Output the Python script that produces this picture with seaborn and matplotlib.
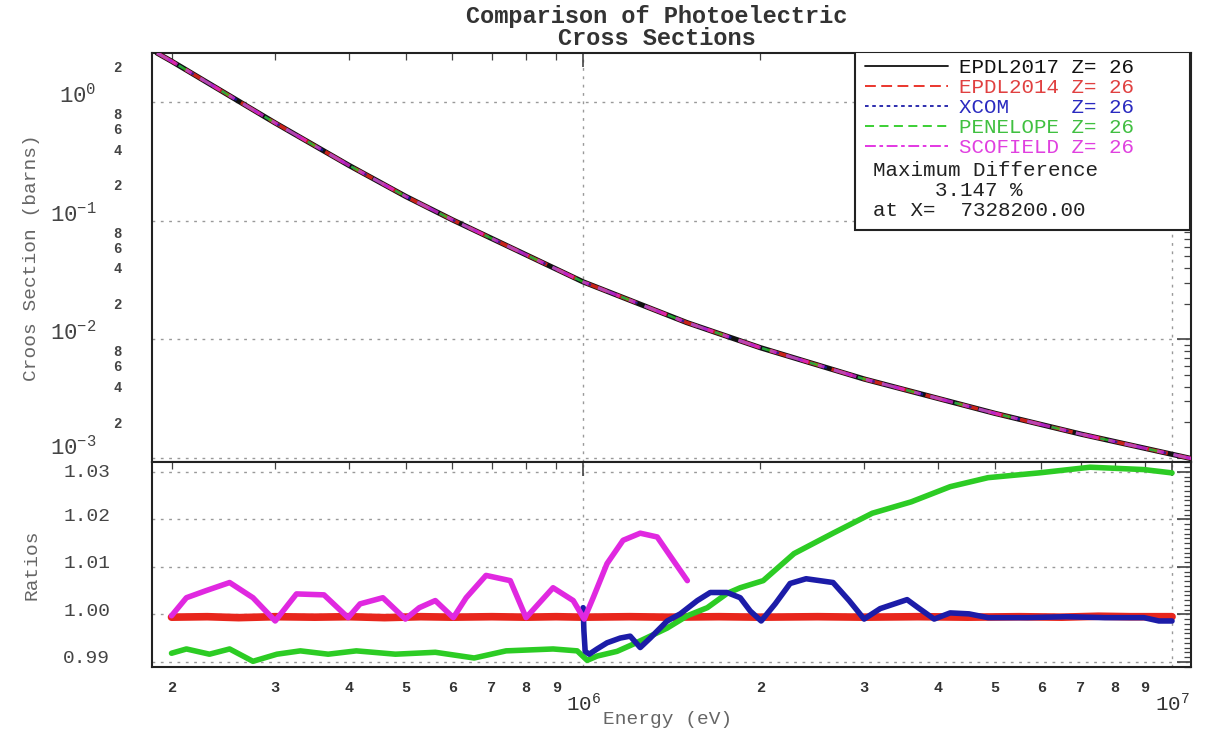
import matplotlib
matplotlib.use("Agg")
import matplotlib.pyplot as plt
import matplotlib.transforms as mtransforms
import seaborn as sns
import pandas as pd
from matplotlib.ticker import FixedLocator, FuncFormatter, LogFormatterSciNotation, MultipleLocator, NullFormatter
from matplotlib.lines import Line2D
from matplotlib.patches import Rectangle

# ---------------- data ----------------
xs_energy = [1.89e5, 2.0e5, 3.0e5, 4.0e5, 5.0e5, 6.0e5, 8.0e5, 1.0e6, 1.5e6, 2.0e6,
             3.0e6, 5.0e6, 7.0e6, 1.077e7]
xs_value = [2.59, 2.21, 0.666, 0.293, 0.160, 0.1016, 0.0516, 0.0305, 0.01384, 0.0085,
            0.00463, 0.00238, 0.00159, 0.00099]

red_energy = [2.0e5, 2.3e5, 2.6e5, 3.0e5, 3.5e5, 4.0e5, 4.6e5, 5.3e5, 6.0e5, 7.0e5, 8.0e5,
              9.0e5, 1.0e6, 1.2e6, 1.4e6, 1.7e6, 2.0e6, 2.5e6, 3.0e6, 3.7e6, 4.5e6,
              5.5e6, 6.5e6, 7.5e6, 8.5e6, 1.0e7]
red_ratio = [0.9994, 0.9995, 0.9993, 0.9995, 0.9994, 0.9995, 0.9993, 0.9995, 0.9994, 0.9995,
             0.9994, 0.9995, 0.9994, 0.9995, 0.9994, 0.9995, 0.9994, 0.9995, 0.9994, 0.9995,
             0.9994, 0.9995, 0.9994, 0.9996, 0.9995, 0.9995]

green_energy = [2.0e5, 2.12e5, 2.32e5, 2.51e5, 2.75e5, 3.02e5, 3.31e5, 3.69e5, 4.12e5, 4.8e5,
                5.61e5, 6.53e5, 7.4e5, 8.89e5, 9.77e5, 1.016e6, 1.056e6, 1.142e6, 1.216e6,
                1.3e6, 1.389e6, 1.503e6, 1.625e6, 1.755e6, 1.848e6, 2.022e6, 2.281e6,
                2.657e6, 3.097e6, 3.606e6, 4.2e6, 4.87e6, 5.94e6, 7.26e6, 8.96e6, 1.0e7]
green_ratio = [0.9918, 0.9927, 0.9916, 0.9927, 0.9901, 0.9916, 0.9923, 0.9916, 0.9923, 0.9916,
               0.9920, 0.9908, 0.9923, 0.9927, 0.9923, 0.9903, 0.9912, 0.9922, 0.9937,
               0.9954, 0.9971, 0.9997, 1.0014, 1.0044, 1.0056, 1.0071, 1.0128,
               1.0171, 1.0213, 1.0237, 1.0269, 1.0288, 1.0298, 1.0310, 1.0305, 1.0298]

blue_energy = [1.0e6, 1.003e6, 1.008e6, 1.024e6, 1.056e6, 1.098e6, 1.156e6, 1.202e6, 1.25e6,
               1.3e6, 1.389e6, 1.462e6, 1.563e6, 1.644e6, 1.755e6, 1.848e6, 1.922e6,
               2.006e6, 2.119e6, 2.246e6, 2.391e6, 2.657e6, 2.829e6, 3.0e6, 3.194e6,
               3.549e6, 3.705e6, 3.945e6, 4.2e6, 4.52e6, 4.87e6, 5.68e6, 6.61e6, 7.69e6,
               8.96e6, 9.5e6, 1.0e7]
blue_ratio = [1.0014, 0.9965, 0.9922, 0.9916, 0.9927, 0.9940, 0.9950, 0.9954, 0.9930,
              0.9950, 0.9986, 1.0001, 1.0029, 1.0046, 1.0046, 1.0035, 1.0007,
              0.9986, 1.0022, 1.0065, 1.0075, 1.0067, 1.0029, 0.9990, 1.0012,
              1.0031, 1.0014, 0.9990, 1.0003, 1.0001, 0.9993, 0.9993, 0.9995, 0.9993,
              0.9993, 0.9986, 0.9986]

mag_energy = [2.0e5, 2.12e5, 2.29e5, 2.51e5, 2.75e5, 3.0e5, 3.26e5, 3.63e5, 3.99e5, 4.18e5,
              4.57e5, 4.99e5, 5.27e5, 5.61e5, 6.02e5, 6.33e5, 6.84e5, 7.52e5, 8.0e5, 8.89e5,
              9.62e5, 1.004e6, 1.04e6, 1.098e6, 1.169e6, 1.25e6, 1.336e6, 1.422e6, 1.503e6]
mag_ratio = [0.9997, 1.0035, 1.0050, 1.0067, 1.0035, 0.9986, 1.0043, 1.0041, 0.9993, 1.0022,
             1.0035, 0.9990, 1.0014, 1.0029, 0.9993, 1.0035, 1.0082, 1.0071, 0.9993, 1.0056,
             1.0029, 0.9990, 1.0035, 1.0107, 1.0156, 1.0171, 1.0163, 1.0114, 1.0071]

series_names = ["EPDL2017", "EPDL2014", "XCOM", "PENELOPE", "SCOFIELD"]
series_z = ["Z= 26"] * 5
max_diff_text = ["Maximum Difference", "3.147 %", "at X=  7328200.00"]
y_major = [1e-3, 1e-2, 1e-1, 1e0]
ratio_major = [0.99, 1.00, 1.01, 1.02, 1.03]
x_major = [1e6, 1e7]
x_minor_mult = [2, 3, 4, 5, 6, 7, 8, 9]

# ---------------- style ----------------
sns.set_theme(style="white")
plt.rcParams["font.family"] = ["Liberation Mono", "DejaVu Sans Mono"]
plt.rcParams["mathtext.default"] = "regular"

C_BLACK = "#111111"
C_RED = "#e8261c"
C_BLUE = "#1c1ca8"
C_GREEN = "#2ccc24"
C_MAG = "#e028e0"
TXT = "#333333"

fig = plt.figure(figsize=(12.09, 7.40), dpi=100)
L, W = 152 / 1209, 1039 / 1209
ax1 = fig.add_axes([L, 1 - 462 / 740, W, 409 / 740])
ax2 = fig.add_axes([L, 1 - 667 / 740, W, 205 / 740], sharex=ax1)

for ax in (ax1, ax2):
    ax.set_xscale("log")
ax1.set_yscale("log")

# ---------------- top panel ----------------
df_xs = pd.DataFrame({"Energy": xs_energy, "XS": xs_value})
sns.lineplot(data=df_xs, x="Energy", y="XS", ax=ax1, color=C_BLACK, lw=3.8, linestyle="-", zorder=3)
sns.lineplot(data=df_xs, x="Energy", y="XS", ax=ax1, color=C_RED, lw=2.6, linestyle=(0, (6, 3)), zorder=4, alpha=0.85)
sns.lineplot(data=df_xs, x="Energy", y="XS", ax=ax1, color=C_BLUE, lw=1.8, linestyle=(0, (2, 3)), zorder=5, alpha=0.8)
sns.lineplot(data=df_xs, x="Energy", y="XS", ax=ax1, color=C_GREEN, lw=1.8, linestyle=(0, (5, 5)), zorder=5, alpha=0.8)
sns.lineplot(data=df_xs, x="Energy", y="XS", ax=ax1, color=C_MAG, lw=2.4, linestyle=(0, (7, 3, 2, 3)), zorder=6, alpha=0.75)

# ---------------- ratio panel ----------------
sns.lineplot(x=red_energy, y=red_ratio, ax=ax2, color=C_RED, lw=5.5, zorder=3)
sns.lineplot(x=green_energy, y=green_ratio, ax=ax2, color=C_GREEN, lw=4.0, zorder=4)
sns.lineplot(x=blue_energy, y=blue_ratio, ax=ax2, color=C_BLUE, lw=4.0, zorder=5)
sns.lineplot(x=mag_energy, y=mag_ratio, ax=ax2, color=C_MAG, lw=4.0, zorder=6)

# ---------------- axes limits ----------------
ax1.set_xlim(1.853e5, 1.077e7)
ax1.set_ylim(9.25e-4, 2.59)
ax2.set_ylim(0.9889, 1.0321)

# ---------------- ticks ----------------
x_minor = [m * d for d in (1e5, 1e6) for m in x_minor_mult]
ax2.xaxis.set_major_locator(FixedLocator(x_major))
ax2.xaxis.set_minor_locator(FixedLocator(x_minor))
ax2.xaxis.set_major_formatter(LogFormatterSciNotation())
ax2.xaxis.set_minor_formatter(FuncFormatter(lambda v, p: ("%.0e" % v)[0]))

y_minor = [m * d for d in (1e-3, 1e-2, 1e-1, 1e0) for m in x_minor_mult]
ax1.yaxis.set_major_locator(FixedLocator(y_major))
ax1.yaxis.set_minor_locator(FixedLocator(y_minor))
ax1.yaxis.set_major_formatter(LogFormatterSciNotation())


def ylab(v, p):
    m = int(("%.0e" % v)[0])
    return str(m) if m in (2, 4, 6, 8) else ""


ax1.yaxis.set_minor_formatter(FuncFormatter(ylab))

ax2.yaxis.set_major_locator(FixedLocator(ratio_major))
ax2.yaxis.set_minor_locator(MultipleLocator(0.001))
ax2.yaxis.set_major_formatter(FuncFormatter(lambda v, p: "%.2f" % v))
ax2.yaxis.set_minor_formatter(NullFormatter())

for ax in (ax1, ax2):
    ax.tick_params(which="both", direction="in", top=True, right=True, colors="#444444")
    ax.tick_params(which="major", length=10, width=1.2)
    ax.tick_params(which="minor", length=5, width=0.9)
    for sp in ax.spines.values():
        sp.set_color("#222222")
        sp.set_linewidth(1.5)
    ax.grid(True, which="major", linestyle=(0, (2, 4)), color="#999999", lw=1.0)

ax1.tick_params(axis="x", which="both", labelbottom=False)
ax1.tick_params(axis="y", which="major", labelsize=16, pad=40, labelcolor="#444444")
ax1.tick_params(axis="y", which="minor", labelsize=10, pad=22, labelcolor="#444444")
ax2.tick_params(axis="y", which="major", labelsize=14, pad=30, labelcolor="#444444")
ax2.tick_params(axis="x", which="minor", labelsize=11, pad=10, labelcolor="#333333")
ax2.tick_params(axis="x", which="major", labelsize=15, pad=18, labelcolor="#333333")

fig.canvas.draw()
for i, t in enumerate(ax1.yaxis.get_majorticklabels()):
    dy = 13 if i == 0 else 9
    t.set_transform(t.get_transform() + mtransforms.ScaledTranslation(0, dy / 100, fig.dpi_scale_trans))
rat_labels = ax2.yaxis.get_majorticklabels()
for i, t in enumerate(rat_labels):
    dy = 1 if i == len(rat_labels) - 1 else 5
    t.set_transform(t.get_transform() + mtransforms.ScaledTranslation(0, dy / 100, fig.dpi_scale_trans))
for t in ax1.yaxis.get_minorticklabels():
    t.set_fontweight("bold")
for t in ax2.xaxis.get_minorticklabels():
    t.set_fontweight("bold")

# ---------------- labels ----------------
ax1.set_ylabel("Croos Section (barns)", fontsize=14, color="#666666")
ax1.yaxis.set_label_coords((40 - 152) / 1039, 0.5)
ax2.set_ylabel("Ratios", fontsize=14, color="#666666")
ax2.yaxis.set_label_coords((40 - 152) / 1039, 0.5)
ax2.set_xlabel("Energy (eV)", fontsize=14, color="#666666")
ax2.xaxis.set_label_coords((668 - 152) / 1039, (667 - 711) / 205)

fig.text(657 / 1209, 1 - 5 / 740, "Comparison of Photoelectric\nCross Sections",
         ha="center", va="top", fontsize=17, fontweight="bold", color=TXT, linespacing=0.95)

# ---------------- legend box ----------------
box = Rectangle(((855 - 152) / 1039, (462 - 230) / 409), (1190 - 855) / 1039, (230 - 52) / 409,
                transform=ax1.transAxes, facecolor="white", edgecolor="#222222", lw=1.5, zorder=10)
ax1.add_patch(box)

colors = [C_BLACK, C_RED, C_BLUE, C_GREEN, C_MAG]
styles = ["-", (0, (6, 3)), (0, (2, 2)), (0, (5, 3)), (0, (6, 2, 2, 2))]
handles = [Line2D([], [], color=c, lw=1.3, linestyle=s) for c, s in zip(colors, styles)]
labels = ["%-9s%s" % (n, z) for n, z in zip(series_names, series_z)]
leg = ax1.legend(handles, labels, loc="upper left",
                 bbox_to_anchor=((865 - 152) / 1039, (462 - 58) / 409),
                 frameon=False, fontsize=15, handlelength=4.0, handletextpad=0.5,
                 labelspacing=0.05, borderpad=0, borderaxespad=0,
                 labelcolor=["#111111", "#e04040", "#2a2ac0", "#40c040", "#e040e0"])
leg.set_zorder(11)

ax1.text((873 - 152) / 1039, (462 - 170) / 409, max_diff_text[0], transform=ax1.transAxes,
         fontsize=15, color="#222222", va="center", ha="left", zorder=12)
ax1.text((935 - 152) / 1039, (462 - 190) / 409, max_diff_text[1], transform=ax1.transAxes,
         fontsize=15, color="#222222", va="center", ha="left", zorder=12)
ax1.text((873 - 152) / 1039, (462 - 210) / 409, max_diff_text[2], transform=ax1.transAxes,
         fontsize=15, color="#222222", va="center", ha="left", zorder=12)

fig.savefig("out.png", dpi=100)
